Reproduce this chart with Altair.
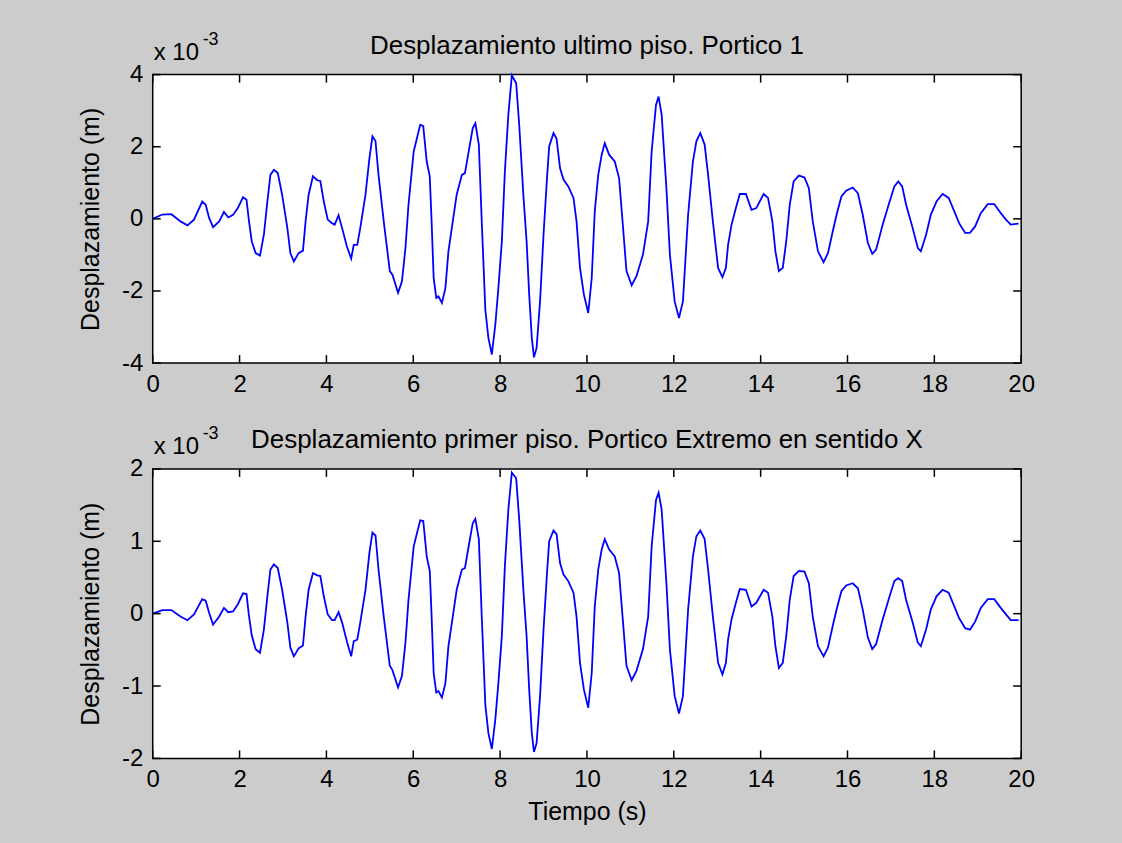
import altair as alt
import pandas as pd

# ---- data ----
t = [0.00, 0.22, 0.43, 0.64, 0.80, 0.95, 1.14, 1.22, 1.30, 1.39, 1.53, 1.64, 1.74, 1.85, 1.96,
     2.08, 2.16, 2.21, 2.28, 2.37, 2.47, 2.56, 2.64, 2.71, 2.79, 2.88, 2.98, 3.10, 3.17, 3.25,
     3.36, 3.46, 3.52, 3.59, 3.69, 3.79, 3.86, 3.94, 4.03, 4.13, 4.19, 4.28, 4.36, 4.47, 4.57,
     4.63, 4.71, 4.78, 4.90, 4.99, 5.06, 5.13, 5.20, 5.32, 5.46, 5.52, 5.65, 5.74, 5.82, 5.89,
     6.01, 6.16, 6.23, 6.31, 6.38, 6.42, 6.47, 6.53, 6.58, 6.66, 6.74, 6.81, 6.91, 7.00, 7.12,
     7.19, 7.29, 7.37, 7.43, 7.51, 7.58, 7.66, 7.73, 7.81, 7.89, 7.96, 8.04, 8.11, 8.19, 8.27,
     8.37, 8.44, 8.54, 8.61, 8.67, 8.73, 8.78, 8.84, 8.92, 9.00, 9.08, 9.13, 9.23, 9.30, 9.38,
     9.46, 9.57, 9.69, 9.76, 9.84, 9.93, 10.03, 10.11, 10.18, 10.26, 10.34, 10.41, 10.51, 10.64,
     10.74, 10.82, 10.91, 11.03, 11.14, 11.29, 11.41, 11.49, 11.59, 11.65, 11.72, 11.83, 11.91,
     12.02, 12.12, 12.21, 12.33, 12.44, 12.52, 12.61, 12.71, 12.79, 12.90, 13.02, 13.12, 13.20,
     13.25, 13.33, 13.43, 13.52, 13.66, 13.79, 13.90, 14.07, 14.17, 14.27, 14.34, 14.42, 14.51,
     14.59, 14.67, 14.76, 14.88, 15.01, 15.11, 15.20, 15.32, 15.45, 15.55, 15.66, 15.75, 15.86,
     15.97, 16.12, 16.24, 16.35, 16.47, 16.57, 16.66, 16.81, 16.97, 17.08, 17.17, 17.26, 17.35,
     17.50, 17.62, 17.69, 17.81, 17.92, 18.05, 18.19, 18.33, 18.46, 18.57, 18.71, 18.82, 18.94,
     19.07, 19.23, 19.38, 19.53, 19.65, 19.76, 19.94]

# top floor displacement (x 10^-3 m)
top = [0.00, 0.12, 0.13, -0.07, -0.18, -0.02, 0.48, 0.39, 0.02, -0.23, -0.07, 0.19, 0.04, 0.11, 0.30,
       0.60, 0.53, 0.00, -0.62, -0.95, -1.02, -0.44, 0.48, 1.22, 1.36, 1.27, 0.67, -0.25, -0.95, -1.18,
       -0.95, -0.88, -0.07, 0.67, 1.18, 1.07, 1.05, 0.48, -0.02, -0.12, -0.16, 0.10, -0.25, -0.76, -1.10,
       -0.72, -0.72, -0.25, 0.67, 1.68, 2.29, 2.16, 1.22, -0.07, -1.45, -1.55, -2.05, -1.73, -0.81, 0.39,
       1.87, 2.61, 2.57, 1.59, 1.18, 0.00, -1.64, -2.19, -2.15, -2.33, -1.92, -0.90, -0.07, 0.67, 1.22,
       1.27, 1.96, 2.52, 2.65, 2.06, -0.16, -2.52, -3.30, -3.76, -2.93, -1.92, -0.62, 1.32, 2.89, 3.98,
       3.76, 2.61, 0.58, -0.62, -2.10, -3.30, -3.84, -3.58, -2.29, -0.44, 1.13, 2.01, 2.38, 2.22, 1.41,
       1.09, 0.90, 0.58, -0.07, -1.36, -2.10, -2.61, -1.64, 0.21, 1.22, 1.78, 2.10, 1.78, 1.59,
       1.13, -0.07, -1.45, -1.84, -1.59, -0.99, -0.07, 1.87, 3.16, 3.39, 2.89, 0.85, -0.99,
       -2.29, -2.75, -2.29, 0.12, 1.59, 2.15, 2.38, 2.06, 1.22, -0.07, -1.36, -1.62, -1.36,
       -0.72, -0.16, 0.30, 0.69, 0.69, 0.25, 0.30, 0.69, 0.58, -0.07, -0.90, -1.45, -1.36,
       -0.62, 0.39, 1.04, 1.20, 1.15, 0.85, -0.07, -0.90, -1.20, -0.95, -0.35, 0.12, 0.62,
       0.78, 0.87, 0.71, 0.12, -0.67, -0.97, -0.85, -0.16, 0.48, 0.90, 1.04, 0.90, 0.39,
       -0.25, -0.81, -0.90, -0.44, 0.12, 0.48, 0.69, 0.58, 0.21, -0.12, -0.39, -0.39, -0.21,
       0.16, 0.41, 0.41, 0.16, -0.02, -0.16, -0.13]

# first floor displacement (x 10^-3 m)
bottom = [0.00, 0.05, 0.05, -0.04, -0.09, -0.01, 0.20, 0.18, 0.01, -0.15, -0.04, 0.08, 0.02, 0.03, 0.13,
          0.28, 0.27, 0.00, -0.30, -0.49, -0.54, -0.22, 0.24, 0.61, 0.68, 0.63, 0.33, -0.12, -0.47, -0.59,
          -0.48, -0.44, -0.04, 0.33, 0.56, 0.53, 0.52, 0.24, -0.01, -0.09, -0.09, 0.02, -0.12, -0.38, -0.59,
          -0.38, -0.36, -0.12, 0.33, 0.84, 1.12, 1.08, 0.61, -0.04, -0.72, -0.78, -1.02, -0.86, -0.40, 0.19,
          0.93, 1.29, 1.28, 0.79, 0.59, 0.00, -0.82, -1.09, -1.07, -1.16, -0.96, -0.45, -0.04, 0.33, 0.61,
          0.63, 0.98, 1.25, 1.31, 1.03, -0.08, -1.26, -1.65, -1.87, -1.46, -0.96, -0.31, 0.66, 1.44, 1.95,
          1.87, 1.30, 0.29, -0.31, -1.05, -1.65, -1.91, -1.79, -1.14, -0.22, 0.56, 1.00, 1.15, 1.10, 0.70,
          0.54, 0.45, 0.29, -0.04, -0.68, -1.05, -1.30, -0.82, 0.10, 0.61, 0.89, 1.03, 0.89, 0.79,
          0.56, -0.04, -0.72, -0.92, -0.79, -0.49, -0.04, 0.93, 1.57, 1.67, 1.44, 0.42, -0.49,
          -1.14, -1.38, -1.14, 0.06, 0.79, 1.07, 1.15, 1.03, 0.61, -0.04, -0.68, -0.84, -0.68,
          -0.36, -0.08, 0.15, 0.34, 0.33, 0.10, 0.15, 0.33, 0.29, -0.04, -0.45, -0.75, -0.68,
          -0.31, 0.19, 0.52, 0.59, 0.58, 0.42, -0.04, -0.45, -0.59, -0.47, -0.17, 0.06, 0.31,
          0.39, 0.42, 0.35, 0.06, -0.33, -0.49, -0.42, -0.08, 0.24, 0.45, 0.49, 0.45, 0.19,
          -0.12, -0.40, -0.45, -0.22, 0.06, 0.24, 0.33, 0.29, 0.10, -0.06, -0.20, -0.22, -0.11,
          0.08, 0.20, 0.20, 0.08, -0.01, -0.09, -0.09]

x_ticks = [0, 2, 4, 6, 8, 10, 12, 14, 16, 18, 20]
top_ticks = [-4, -2, 0, 2, 4]
bottom_ticks = [-2, -1, 0, 1, 2]

title_top = "Desplazamiento ultimo piso. Portico 1"
title_bottom = "Desplazamiento primer piso. Portico Extremo en sentido X"
y_title = "Desplazamiento (m)"
x_title = "Tiempo (s)"

FONT = "Liberation Sans"
W = 870


def panel(values, yticks, title, height, xtitle, full_bg=False):
    df = pd.DataFrame({"t": t, "v": values})
    xscale = alt.Scale(domain=[0, 20], nice=False, zero=False)
    yscale = alt.Scale(domain=[yticks[0], yticks[-1]], nice=False, zero=False)
    xaxis = alt.Axis(values=x_ticks, labelExpr="'' + datum.value", title=xtitle,
                     labelPadding=9, titlePadding=8)
    yaxis = alt.Axis(values=yticks, labelExpr="'' + datum.value", title=y_title,
                     labelPadding=10, titlePadding=18)
    X = alt.X("t:Q", scale=xscale, axis=xaxis)
    Y = alt.Y("v:Q", scale=yscale, axis=yaxis)

    line = alt.Chart(df).mark_line(color="#0000ff", strokeWidth=1.8).encode(x=X, y=Y)

    xt = pd.DataFrame({"t": x_ticks})
    yt = pd.DataFrame({"v": yticks})
    tick_style = dict(color="black", size=8, thickness=1.5, opacity=1)
    xt_top = alt.Chart(xt).mark_tick(**tick_style).encode(x=X, y=alt.value(4))
    xt_bot = alt.Chart(xt).mark_tick(**tick_style).encode(x=X, y=alt.value(height - 4))
    yt_left = alt.Chart(yt).mark_tick(**tick_style).encode(y=Y, x=alt.value(4))
    yt_right = alt.Chart(yt).mark_tick(**tick_style).encode(y=Y, x=alt.value(W - 4))

    one = pd.DataFrame({"a": [0]})
    ttl = alt.Chart(one).mark_text(text=title, font=FONT, fontSize=26, align="center",
                                   baseline="alphabetic", color="black").encode(
        x=alt.value(W / 2), y=alt.value(-21))
    x10 = alt.Chart(one).mark_text(text="x 10", font=FONT, fontSize=24, align="left",
                                   baseline="alphabetic", color="black").encode(
        x=alt.value(1), y=alt.value(-15))
    exp = alt.Chart(one).mark_text(text="-3", font=FONT, fontSize=18, align="left",
                                   baseline="alphabetic", color="black").encode(
        x=alt.value(50), y=alt.value(-30))

    layers = []
    if full_bg:
        layers.append(alt.Chart(one).mark_rect(opacity=0).encode(
            x=alt.value(-152), x2=alt.value(970), y=alt.value(-73), y2=alt.value(770)))
    layers += [line, xt_top, xt_bot, yt_left, yt_right, ttl, x10, exp]
    return alt.layer(*layers).properties(width=W, height=height)


top_chart = panel(top, top_ticks, title_top, 289, None, full_bg=True)
bottom_chart = panel(bottom, bottom_ticks, title_bottom, 290, x_title)

chart = alt.vconcat(top_chart, bottom_chart, spacing=106, bounds="flush").properties(
    padding=0, background="#cccccc"
).configure_view(
    stroke="black", strokeWidth=1.5, fill="white"
).configure_axis(
    domain=False, ticks=False, grid=False,
    labelFont=FONT, labelFontSize=24, labelColor="black",
    titleFont=FONT, titleFontSize=25, titleColor="black", titleFontWeight="normal",
    labelFlush=False, labelOverlap=False, labelBound=False
)

chart.save("out.html", embed_options={"renderer": "svg", "actions": False})
